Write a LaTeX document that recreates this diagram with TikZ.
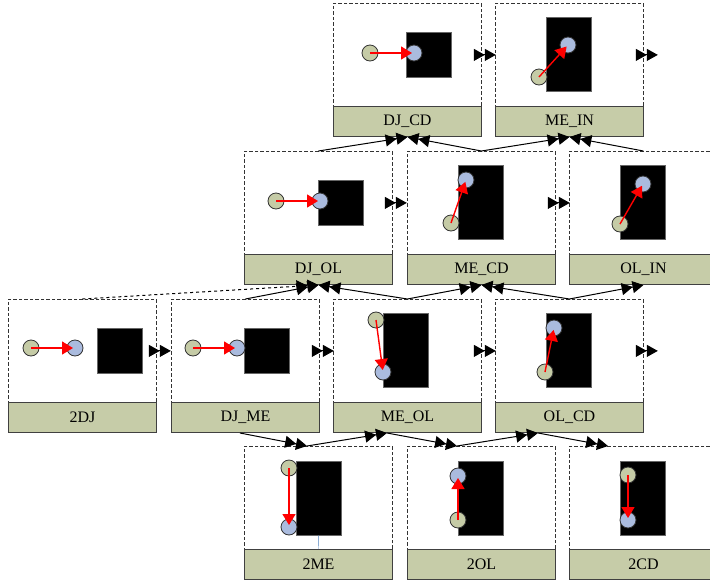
\documentclass[tikz,border=0pt]{standalone}
\usepackage{fontspec}
\setmainfont{Liberation Serif}
\usepackage{xcolor}
\usepackage{tikz}
\usetikzlibrary{arrows.meta,calc}

\definecolor{barcol}{RGB}{198,204,168}
\definecolor{srccol}{RGB}{197,203,166}
\definecolor{dstcol}{RGB}{170,187,222}
\definecolor{wirecol}{RGB}{79,129,189}
\definecolor{movecol}{RGB}{255,0,0}

\begin{document}
\begin{tikzpicture}[x=1pt,y=-1pt,
      frame/.style={draw=black!80, dash pattern=on 3.5pt off 2pt, line width=0.8pt, minimum width=148pt, minimum height=103pt, anchor=north west, inner sep=0pt},
      bar/.style={draw=black!75, fill=barcol, line width=1pt, minimum width=148pt, minimum height=30pt, anchor=north west, inner sep=0pt, font=\fontsize{16}{18}\selectfont},
      square/.style={draw=black!60, fill=black, anchor=north west, inner sep=0pt, minimum width=45pt, minimum height=45pt},
      tall/.style={draw=black!60, fill=black, anchor=north west, inner sep=0pt, minimum width=45pt, minimum height=74pt},
      src/.style={circle, draw=black!80, fill=srccol, minimum size=16pt, inner sep=0pt, line width=0.8pt},
      dst/.style={circle, draw=black!80, fill=dstcol, minimum size=16pt, inner sep=0pt, line width=0.8pt},
      move/.style={draw=movecol, fill=movecol, line width=1.4pt, -{Triangle[length=11pt,width=13pt]}, shorten >=2pt},
      link/.style={line width=1pt, -{Triangle[length=11pt,width=12pt] Triangle[length=11pt,width=12pt]}}
    ]
    \useasboundingbox (0,0) rectangle (710,579);

    \foreach \n/\x/\y/\t in {djcd/333/3/DJ\_CD, mein/495/3/ME\_IN,
        djol/244/151/DJ\_OL, mecd/407/151/ME\_CD, olin/569/151/OL\_IN,
        tdj/8/299/2DJ, djme/171/299/DJ\_ME, meol/333/299/ME\_OL, olcd/495/299/OL\_CD,
        tme/244/446/2ME, tol/407/446/2OL, tcd/569/446/2CD}{
      \node[frame] (\n) at (\x,\y) {};
      \node[bar] (\n-l) at (\x,\y+103) {\t};
    }

    \node[square] (djcd-b) at (406,32) {};
    \node[src] (djcd-s) at (370,53) {};
    \node[dst] (djcd-d) at (414,53) {};
    \draw[move] (djcd-s.center) -- (djcd-d.center);

    \node[tall] (mein-b) at (546,17) {};
    \node[src] (mein-s) at (539,77) {};
    \node[dst] (mein-d) at (568,45) {};
    \draw[move] (mein-s.center) -- (mein-d.center);

    \node[square] (djol-b) at (318,180) {};
    \node[src] (djol-s) at (276,201) {};
    \node[dst] (djol-d) at (320,201) {};
    \draw[move] (djol-s.center) -- (djol-d.center);

    \node[tall] (mecd-b) at (458,165) {};
    \node[src] (mecd-s) at (451,223) {};
    \node[dst] (mecd-d) at (466,180) {};
    \draw[move] (mecd-s.center) -- (mecd-d.center);

    \node[tall] (olin-b) at (620,165) {};
    \node[src] (olin-s) at (620,224) {};
    \node[dst] (olin-d) at (643,184) {};
    \draw[move] (olin-s.center) -- (olin-d.center);

    \node[square] (tdj-b) at (97,328) {};
    \node[src] (tdj-s) at (31,348) {};
    \node[dst] (tdj-d) at (75,348) {};
    \draw[move] (tdj-s.center) -- (tdj-d.center);

    \node[square] (djme-b) at (244,328) {};
    \node[src] (djme-s) at (193,348) {};
    \node[dst] (djme-d) at (237,348) {};
    \draw[move] (djme-s.center) -- (djme-d.center);

    \node[tall] (meol-b) at (383,313) {};
    \node[src] (meol-s) at (376,320) {};
    \node[dst] (meol-d) at (383,372) {};
    \draw[move] (meol-s.center) -- (meol-d.center);

    \node[tall] (olcd-b) at (546,313) {};
    \node[src] (olcd-s) at (545,372) {};
    \node[dst] (olcd-d) at (554,328) {};
    \draw[move] (olcd-s.center) -- (olcd-d.center);

    \node[tall] (tme-b) at (296,461) {};
    \draw[wirecol] (tme-b.south) -- (tme-l.north);
    \node[src] (tme-s) at (289,468) {};
    \node[dst] (tme-d) at (289,527) {};
    \draw[move] (tme-s.center) -- (tme-d.center);

    \node[tall] (tol-b) at (458,461) {};
    \node[src] (tol-s) at (458,520) {};
    \node[dst] (tol-d) at (458,476) {};
    \draw[move] (tol-s.center) -- (tol-d.center);

    \node[tall] (tcd-b) at (620,461) {};
    \node[src] (tcd-s) at (628,475) {};
    \node[dst] (tcd-d) at (628,520) {};
    \draw[move] (tcd-s.center) -- (tcd-d.center);

    \foreach \n in {djcd,mein,djol,mecd,tdj,djme,meol,olcd}
      \draw[link] ([xshift=-8pt]\n.east) -- ++(22,0);

    \draw[link] (djol.north) -- (djcd-l.south);
    \draw[link] (mecd.north) -- (djcd-l.south);
    \draw[link] (mecd.north) -- (mein-l.south);
    \draw[link] (olin.north) -- (mein-l.south);

    \draw[link, dashed] (tdj.north) -- (djol-l.south);
    \draw[link] (djme.north) -- (djol-l.south);
    \draw[link] (meol.north) -- (djol-l.south);
    \draw[link] (meol.north) -- (mecd-l.south);
    \draw[link] (olcd.north) -- (mecd-l.south);
    \draw[link] (olcd.north) -- (olin-l.south);

    \draw[link] ([xshift=69pt]djme-l.south west) -- ([xshift=63pt]tme.north west);
    \draw[link] ([xshift=63pt]tme.north west) -- ([xshift=54pt]meol-l.south west);
    \draw[link] ([xshift=54pt]meol-l.south west) -- ([xshift=50pt]tol.north west);
    \draw[link] ([xshift=50pt]tol.north west) -- ([xshift=43pt]olcd-l.south west);
    \draw[link] ([xshift=43pt]olcd-l.south west) -- ([xshift=39pt]tcd.north west);
  \end{tikzpicture}
\end{document}
